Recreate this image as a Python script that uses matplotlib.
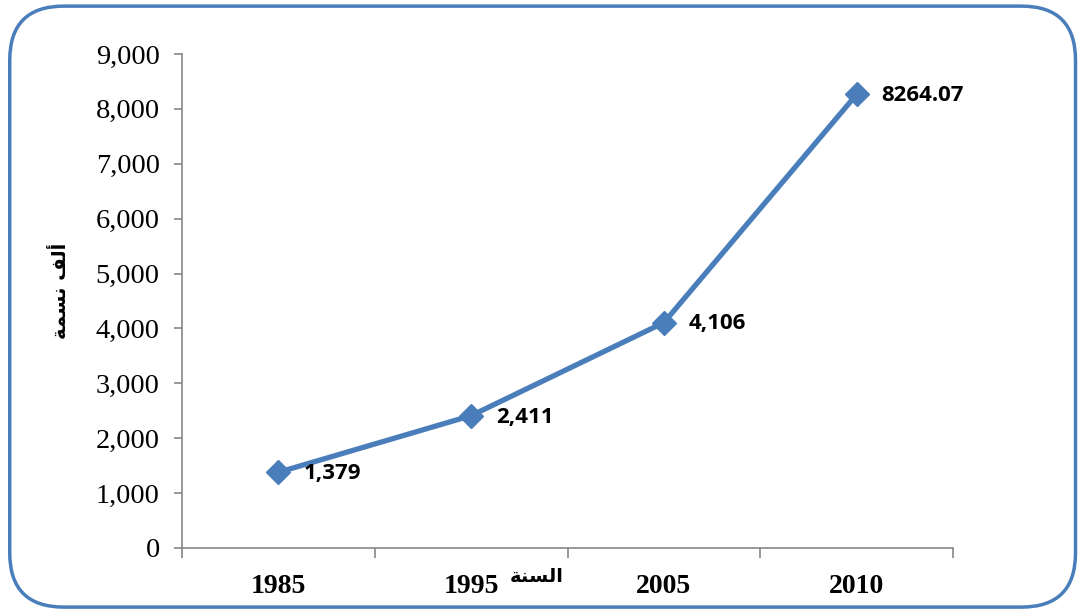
import matplotlib
matplotlib.use("Agg")
from matplotlib import pyplot as plt
from matplotlib.patches import FancyBboxPatch
from matplotlib.ticker import FuncFormatter

years = ["1985", "1995", "2005", "2010"]
population = [1379, 2411, 4106, 8264.07]
point_labels = ["1,379", "2,411", "4,106", "8264.07"]

# Arabic text pre-shaped (presentation forms, visual order) since matplotlib has no shaping
y_title = "\uFE94\uFEE4\uFEB4\uFEE7 \uFED2\uFEDF\uFE83"   # ألف نسمة
x_title = "\uFE94\uFEE8\uFEB4\uFEDF\uFE8D"               # السنة

blue = "#4A7EBB"
axis_gray = "#868686"


def main():
    fig = plt.figure(figsize=(10.82, 6.12), dpi=100)
    border = FancyBboxPatch((0.009, 0.008), 0.985, 0.982,
                            boxstyle="round,pad=0,rounding_size=0.05",
                            transform=fig.transFigure, fill=False,
                            edgecolor=blue, linewidth=2.5, mutation_aspect=1.77)
    fig.patches.append(border)

    ax = fig.add_axes([0.1682, 0.1046, 0.7126, 0.8072])
    x = list(range(len(years)))
    ax.plot(x, population, color=blue, linewidth=3.8, marker="D",
            markersize=12, markeredgecolor=blue, markerfacecolor=blue)

    for xi, yi, lab in zip(x, population, point_labels):
        ax.annotate(lab, (xi, yi), xytext=(18, -1), textcoords="offset points",
                    ha="left", va="center", fontsize=16, fontweight="bold",
                    family="Open Sans")

    ax.set_xlim(-0.5, 3.5)
    ax.set_ylim(0, 9000)
    ax.set_yticks(range(0, 9001, 1000))
    ax.yaxis.set_major_formatter(FuncFormatter(lambda v, p: "{:,.0f}".format(v)))
    for t in ax.get_yticklabels():
        t.set_family("Liberation Serif")
        t.set_fontsize(20.5)

    ax.set_xticks([-0.5, 0.5, 1.5, 2.5, 3.5])
    ax.set_xticklabels([])
    ax.set_xticks(x, minor=True)
    ax.set_xticklabels(years, minor=True, family="Liberation Serif",
                       fontsize=20, fontweight="bold")
    ax.tick_params(axis="x", which="minor", length=0, pad=19)
    ax.tick_params(axis="x", which="major", length=7, color=axis_gray, width=1.2)
    ax.tick_params(axis="y", length=6, color=axis_gray, width=1.2, pad=10)

    for side in ["top", "right"]:
        ax.spines[side].set_visible(False)
    for side in ["left", "bottom"]:
        ax.spines[side].set_color(axis_gray)
        ax.spines[side].set_linewidth(1.2)

    fig.text(0.056, 0.525, y_title, rotation=90, ha="center", va="center",
             fontsize=14, fontweight="bold", family="DejaVu Sans")
    fig.text(0.496, 0.058, x_title, ha="center", va="center",
             fontsize=14, fontweight="bold", family="DejaVu Sans")

    fig.savefig("out.png", dpi=100)


if __name__ == "__main__":
    main()
